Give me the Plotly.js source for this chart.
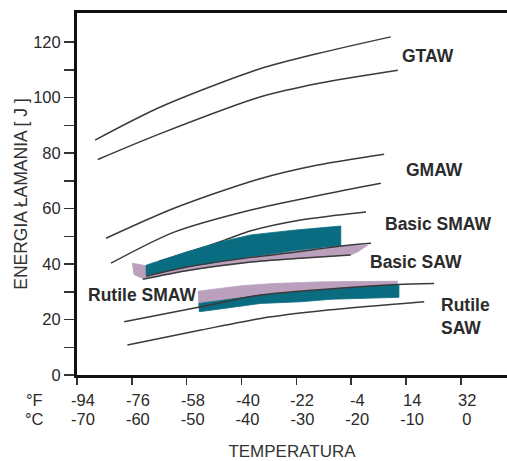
<!DOCTYPE html>
<html>
<head>
<meta charset="utf-8">
<script src="https://cdn.plot.ly/plotly-3.0.1.min.js"></script>
<style>
  html, body { margin: 0; padding: 0; background: #fff; }
  #chart { width: 507px; height: 461px; }
</style>
</head>
<body>
<div id="chart"></div>
<script>
// Temperature ticks (°C on the axis, °F shown above them)
const tempC = [-70, -60, -50, -40, -30, -20, -10, 0];
const tempF = ['-94', '-76', '-58', '-40', '-22', '-4', '14', '32'];
const energyTicks = [0, 10, 20, 30, 40, 50, 60, 70, 80, 90, 100, 110, 120];
const energyLabels = ['0', '', '20', '', '40', '', '60', '', '80', '', '100', '', '120'];

// GTAW scatter limits
const gtawUpperT = [-66.7, -54.7, -36.5, -26.1, -12.8];
const gtawUpperE = [84.7, 96.7, 110.5, 115.9, 121.9];
const gtawLowerT = [-66.2, -54.7, -36.5, -26.1, -11.5];
const gtawLowerE = [77.7, 87.1, 100.3, 105.1, 109.9];

// GMAW scatter limits
const gmawUpperT = [-64.7, -52.3, -37.1, -26.1, -14.0];
const gmawUpperE = [49.3, 60.1, 70.5, 75.7, 79.6];
const gmawLowerT = [-63.8, -52.3, -38.3, -25.5, -14.6];
const gmawLowerE = [40.3, 51.5, 59.5, 64.9, 69.1];

// Basic SMAW: upper limit line and band
const basicSmawLineT = [-55.0, -46.0, -42.0, -38.3, -29.2, -17.3];
const basicSmawLineE = [41.0, 46.6, 49.4, 52.0, 55.9, 58.8];
const basicSmawBandT = [-57.4, -49.8, -43.8, -38.3, -30.0, -21.9, -21.9, -30.0, -38.3, -49.8, -57.4, -57.4];
const basicSmawBandE = [39.6, 44.5, 48.0, 50.5, 52.3, 53.7, 46.8, 45.0, 42.6, 39.0, 36.0, 39.6];

// Basic SAW: band and its two limit lines
const basicSawBandT = [-59.9, -57.4, -49.8, -43.8, -38.3, -30.0, -21.9, -17.0, -18.8, -20.1, -30.0, -38.3, -50.0, -58.0, -59.6, -59.9];
const basicSawBandE = [40.3, 39.4, 44.0, 46.0, 46.0, 46.3, 46.5, 46.8, 44.4, 43.3, 42.0, 40.7, 37.6, 34.8, 36.2, 40.3];
const basicSawUpperT = [-57.4, -49.8, -38.3, -30.0, -21.9, -16.4];
const basicSawUpperE = [35.6, 39.0, 42.4, 44.3, 46.5, 47.5];
const basicSawLowerT = [-58.0, -50.0, -38.3, -30.0, -20.1];
const basicSawLowerE = [34.5, 37.6, 40.7, 42.0, 43.3];

// Rutile SMAW / Rutile SAW
const rutileBandAT = [-47.9, -40.0, -34.0, -25.0, -11.6, -11.6, -24.0, -36.5, -47.8, -47.9];
const rutileBandAE = [30.2, 32.2, 33.0, 33.6, 33.8, 32.6, 31.0, 28.8, 25.8, 30.2];
const rutileBandBT = [-47.8, -36.5, -24.0, -11.3, -11.3, -23.7, -29.2, -36.5, -47.7, -47.8];
const rutileBandBE = [25.8, 28.8, 31.0, 32.6, 28.0, 27.3, 26.4, 25.8, 22.8, 25.8];
const rutileUpperT = [-61.4, -47.4, -36.5, -24.0, -11.6, -4.9];
const rutileUpperE = [19.2, 24.6, 28.8, 31.0, 32.6, 33.0];
const rutileLowerT = [-60.8, -47.4, -36.5, -24.3, -6.7];
const rutileLowerE = [10.8, 16.2, 20.4, 23.4, 26.4];

// Process names placed beside their curves
const processNames = ['GTAW', 'GMAW', 'Basic SMAW', 'Basic SAW', 'Rutile SMAW', 'Rutile<br>SAW'];
const nameT = [-10.6, -9.9, -13.7, -16.4, -67.8, -3.5];
const nameE = [115.0, 73.9, 54.4, 40.7, 28.8, 21.0];

const TEAL = '#0a6c80';
const LILAC = '#baa0bd';
const LINE = '#3a3a3a';
const SANS = '"Liberation Sans", Arial, sans-serif';
const TICKFONT = { family: SANS, size: 16.5, color: '#2a2a2a' };

function curve(t, e) {
  return { x: t, y: e, type: 'scatter', mode: 'lines',
           line: { color: LINE, width: 1.5, shape: 'spline', smoothing: 0.8 },
           hoverinfo: 'skip' };
}
function band(t, e, color) {
  return { x: t, y: e, type: 'scatter', mode: 'lines', fill: 'toself',
           fillcolor: color, line: { color: color, width: 0.8 }, hoverinfo: 'skip' };
}

const traces = [
  curve(gtawUpperT, gtawUpperE),
  curve(gtawLowerT, gtawLowerE),
  curve(gmawUpperT, gmawUpperE),
  curve(gmawLowerT, gmawLowerE),
  curve(basicSmawLineT, basicSmawLineE),
  band(basicSawBandT, basicSawBandE, LILAC),
  band(basicSmawBandT, basicSmawBandE, TEAL),
  curve(basicSawUpperT, basicSawUpperE),
  curve(basicSawLowerT, basicSawLowerE),
  band(rutileBandAT, rutileBandAE, LILAC),
  band(rutileBandBT, rutileBandBE, TEAL),
  curve(rutileUpperT, rutileUpperE),
  curve(rutileLowerT, rutileLowerE)
];

const annotations = [];
processNames.forEach((name, i) => {
  annotations.push({
    x: nameT[i], y: nameE[i], xref: 'x', yref: 'y', xshift: -3,
    xanchor: 'left', yanchor: 'middle', align: 'left', showarrow: false,
    text: name,
    font: { family: SANS, size: 17.5, weight: 'bold', color: '#2b2b2b' }
  });
});
// Fahrenheit row above the Celsius tick labels
tempC.forEach((c, i) => {
  annotations.push({
    x: c, y: 0, xref: 'x', yref: 'paper', xanchor: 'center', yanchor: 'middle',
    yshift: -25, xshift: 6, showarrow: false, text: tempF[i], font: TICKFONT
  });
});
// unit markers left of the two label rows (paper x of pixel column 34)
const unitX = (34 - 77) / 430;
annotations.push({ x: unitX, y: 0, xref: 'paper', yref: 'paper', showarrow: false,
  xanchor: 'center', yanchor: 'middle', yshift: -25, text: '°F', font: TICKFONT });
annotations.push({ x: unitX, y: 0, xref: 'paper', yref: 'paper', showarrow: false,
  xanchor: 'center', yanchor: 'middle', yshift: -44, text: '°C', font: TICKFONT });

const layout = {
  width: 507, height: 461,
  margin: { l: 77, r: 0, t: 13, b: 86 },
  paper_bgcolor: '#fff', plot_bgcolor: '#fff',
  showlegend: false,
  xaxis: {
    range: [-70, 8.4], tickmode: 'array', tickvals: tempC,
    ticktext: tempC.map(String),
    ticks: 'outside', ticklen: 7, tickwidth: 1.5, tickcolor: '#333',
    ticklabelshift: 6, ticklabelstandoff: 20,
    tickfont: TICKFONT,
    showline: true, linewidth: 3, linecolor: '#111', mirror: true,
    showgrid: false, zeroline: false, automargin: false,
    title: { text: 'TEMPERATURA', font: { family: SANS, size: 17, color: '#333' }, standoff: 27 }
  },
  yaxis: {
    range: [0, 130.5], tickmode: 'array', tickvals: energyTicks, ticktext: energyLabels,
    ticks: 'outside', ticklen: 10, tickwidth: 1.5, tickcolor: '#333',
    tickfont: TICKFONT,
    showline: true, linewidth: 3, linecolor: '#111', mirror: false,
    showgrid: false, zeroline: false, automargin: false,
    title: { text: 'ENERGIA ŁAMANIA [ J ]', font: { family: SANS, size: 17.5, color: '#333' }, standoff: 2 }
  },
  annotations: annotations
};

Plotly.newPlot('chart', traces, layout, { staticPlot: true, displayModeBar: false });
</script>
</body>
</html>
